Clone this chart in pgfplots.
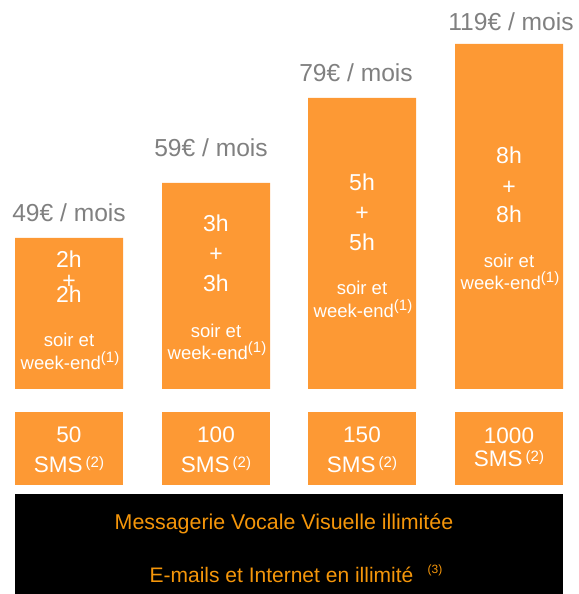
\documentclass[border=0pt]{standalone}
\usepackage{pgfplots}
\pgfplotsset{compat=1.18}
\usepackage{fontspec}
\setmainfont{Liberation Sans}
\definecolor{barorange}{RGB}{253,153,52}
\definecolor{pricegray}{RGB}{128,128,128}
\definecolor{bandorange}{RGB}{245,150,10}
\newcommand{\fs}[1]{\fontsize{#1}{#1}\selectfont}
\newcommand{\supr}[2][7pt]{\raisebox{#1}{\fs{15}#2}}
\begin{document}
\begin{tikzpicture}
\begin{axis}[
  width=578pt, height=594pt, scale only axis,
  xmin=0, xmax=578, ymin=-205, ymax=389,
  hide axis, clip=false,
]
\path (rel axis cs:0,0) rectangle (rel axis cs:1,1);
% black band
\addplot[fill=black, draw=none] coordinates {(15,-105) (563,-105) (563,-205) (15,-205)} -- cycle;
% SMS boxes
\addplot[fill=barorange, draw=none] coordinates {(15,-23) (123,-23) (123,-96) (15,-96)} -- cycle;
\addplot[fill=barorange, draw=none] coordinates {(162,-23) (270,-23) (270,-96) (162,-96)} -- cycle;
\addplot[fill=barorange, draw=none] coordinates {(308,-23) (416,-23) (416,-96) (308,-96)} -- cycle;
\addplot[fill=barorange, draw=none] coordinates {(455,-23) (563,-23) (563,-96) (455,-96)} -- cycle;
% main bars
\addplot[ybar, bar width=108, bar shift=0pt, fill=barorange, draw=none]
  coordinates {(69,151) (216,206) (362,291) (509,345)};

% price labels
\begin{scope}[every node/.style={anchor=base, text=pricegray, font=\fs{24.6}, inner sep=0pt}]
\node at (axis cs:69,167) {49€ / mois};
\node at (axis cs:211,232) {59€ / mois};
\node at (axis cs:356,307) {79€ / mois};
\node at (axis cs:511,358) {119€ / mois};
\end{scope}

% bar texts
\begin{scope}[every node/.style={anchor=base, text=white, font=\fs{23}, inner sep=0pt}]
\node at (axis cs:69,121) {2h};
\node at (axis cs:69,100) {+};
\node at (axis cs:69,86) {2h};
\node at (axis cs:216,157) {3h};
\node at (axis cs:216,127) {+};
\node at (axis cs:216,97) {3h};
\node at (axis cs:362,198) {5h};
\node at (axis cs:362,168) {+};
\node at (axis cs:362,138) {5h};
\node at (axis cs:509,225) {8h};
\node at (axis cs:509,194) {+};
\node at (axis cs:509,166) {8h};
\end{scope}
\begin{scope}[every node/.style={anchor=base, text=white, font=\fs{18.5}, inner sep=0pt}]
\node at (axis cs:69,42) {soir et};
\node at (axis cs:70,19) {week-end\supr{(1)}};
\node at (axis cs:216,51) {soir et};
\node at (axis cs:217,29) {week-end\supr{(1)}};
\node at (axis cs:362,94) {soir et};
\node at (axis cs:363,71) {week-end\supr{(1)}};
\node at (axis cs:509,121) {soir et};
\node at (axis cs:510,99) {week-end\supr{(1)}};
\end{scope}

% SMS texts
\begin{scope}[every node/.style={anchor=base, text=white, font=\fs{22.5}, inner sep=0pt}]
\node at (axis cs:69,-54) {50};
\node at (axis cs:69,-84) {SMS\hspace{3pt}\supr[5pt]{(2)}};
\node at (axis cs:216,-54) {100};
\node at (axis cs:216,-84) {SMS\hspace{3pt}\supr[5pt]{(2)}};
\node at (axis cs:362,-54) {150};
\node at (axis cs:362,-84) {SMS\hspace{3pt}\supr[5pt]{(2)}};
\node at (axis cs:509,-55) {1000};
\node at (axis cs:509,-78) {SMS\hspace{3pt}\supr[5pt]{(2)}};
\end{scope}

% band texts
\begin{scope}[every node/.style={anchor=base, text=bandorange, font=\fs{21}, inner sep=0pt}]
\node[font=\fs{21.4}] at (axis cs:284,-141) {Messagerie Vocale Visuelle illimitée};
\node at (axis cs:281.5,-193) {E-mails et Internet en illimité};
\end{scope}
\node[anchor=center, text=bandorange, font=\fs{12}, inner sep=0pt] at (axis cs:435,-181) {(3)};
\end{axis}
\end{tikzpicture}
\end{document}
